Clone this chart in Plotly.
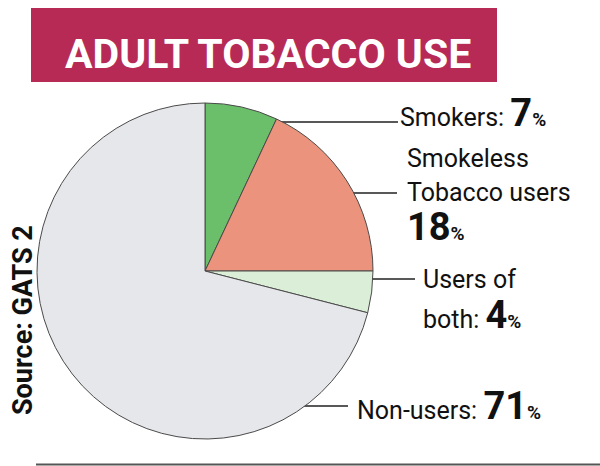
import math
import plotly.graph_objects as go

# ---- data ----
labels = ["Smokers", "Smokeless Tobacco users", "Users of both", "Non-users"]
values = [7, 18, 4, 71]
title_text = "ADULT TOBACCO USE"
source_text = "Source: GATS 2"

# ---- style ----
slice_colors = ["#6cbf6a", "#eb937c", "#dbeed8", "#e6e7ea"]
W, H = 600, 466
CX, CY, R = 205, 271, 168
FONT = "Roboto, Liberation Sans, sans-serif"
# leader style: (fraction along slice, radius fraction, elbow y, end x)
leaders = [(0.4, 0.82, 122, 398), (0.375, 0.59, 193, 397), (0.59, 0.64, 279, 415), (0.253, 0.905, 406, 348)]

fig = go.Figure()
fig.add_trace(go.Pie(
    labels=labels, values=values, sort=False, direction="clockwise", rotation=0,
    marker=dict(colors=slice_colors, line=dict(color="#4a4a4a", width=1)),
    textinfo="none", hoverinfo="label+percent", showlegend=False,
    domain=dict(x=[(CX - R) / W, (CX + R) / W], y=[1 - (CY + R) / H, 1 - (CY - R) / H]),
))

total = sum(values)
cum = 0
for v, (f, rf, ey, ex) in zip(values, leaders):
    a0 = cum / total * 2 * math.pi
    a1 = (cum + v) / total * 2 * math.pi
    cum += v
    th = a0 + f * (a1 - a0)
    dx = CX + rf * R * math.sin(th)
    dy = CY - rf * R * math.cos(th)
    fig.add_trace(go.Scatter(x=[dx, dx, ex], y=[dy, ey, ey], mode="lines",
                             line=dict(color="#222", width=1.4), hoverinfo="skip", showlegend=False))
    fig.add_trace(go.Scatter(x=[dx], y=[dy], mode="markers",
                             marker=dict(color="#111", size=5), hoverinfo="skip", showlegend=False))

BIG = "font-size:38px"
PCT = "font-size:19px"
def big(num):
    return f"<b><span style='{BIG}'>{num}</span><span style='{PCT}'>%</span></b>"

ann = []
def add(text, x, y, size=25, anchor="left", **kw):
    ann.append(dict(text=text, x=x, y=y, xref="x", yref="y", showarrow=False,
                    xanchor=anchor, yanchor="middle", font=dict(family=FONT, size=size, color="#111"), **kw))

add(f"Smokers: {big(values[0])}", 398, 113)
add("Smokeless", 405, 158)
add("Tobacco users", 405, 192)
add(big(values[1]), 405, 227)
add("Users of", 421, 279)
add(f"both: {big(values[2])}", 421, 315)
add(f"Non-users: {big(values[3])}", 355, 406)

ann.append(dict(text=f"<b>{title_text}</b>", x=268, y=54, xref="x", yref="y", showarrow=False,
                xanchor="center", yanchor="middle", font=dict(family=FONT, size=41, color="white")))
ann.append(dict(text=f"<b>{source_text}</b>", x=23, y=320, xref="x", yref="y", showarrow=False,
                textangle=-90, xanchor="center", yanchor="middle", font=dict(family=FONT, size=27, color="#111")))

fig.update_layout(
    width=W, height=H, margin=dict(l=0, r=0, t=0, b=0),
    paper_bgcolor="white", plot_bgcolor="rgba(0,0,0,0)",
    xaxis=dict(range=[0, W], visible=False, fixedrange=True),
    yaxis=dict(range=[H, 0], visible=False, fixedrange=True),
    annotations=ann,
    shapes=[
        dict(type="rect", xref="x", yref="y", x0=31, x1=497, y0=8, y1=82,
             fillcolor="#b72a56", line=dict(width=0), layer="below"),
        dict(type="line", xref="x", yref="y", x0=36, x1=600, y0=464.5, y1=464.5,
             line=dict(color="#555", width=2)),
    ],
)

fig.write_html("out.html", config={"displayModeBar": False},
               post_script="document.body.style.margin='0';document.body.style.overflow='hidden';")
